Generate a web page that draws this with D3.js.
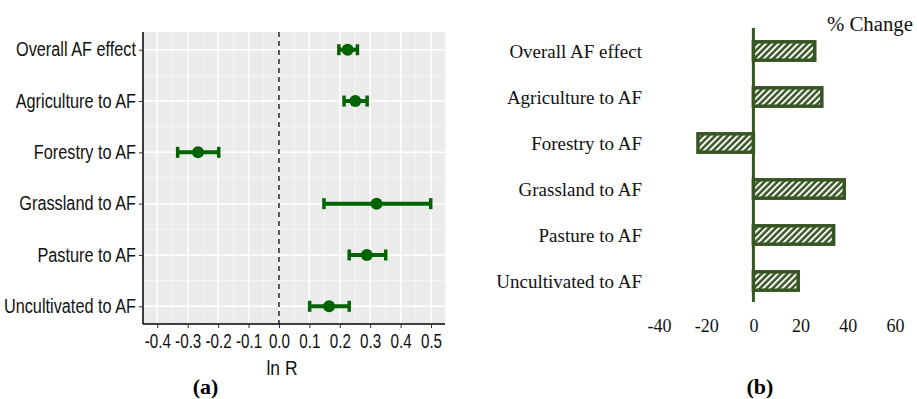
<!DOCTYPE html>
<html>
<head>
<meta charset="utf-8">
<script src="https://cdn.jsdelivr.net/npm/d3@7"></script>
<style>
body { margin: 0; background: #fff; }
svg { display: block; }
</style>
</head>
<body>
<svg width="917" height="399"></svg>
<script>
// categories, top to bottom
var categories = ["Overall AF effect", "Agriculture to AF", "Forestry to AF",
	"Grassland to AF", "Pasture to AF", "Uncultivated to AF"];

// (a) ln R with confidence interval
var lnR = [0.226, 0.251, -0.266, 0.321, 0.289, 0.165];
var lnRLow = [0.197, 0.214, -0.333, 0.148, 0.231, 0.101];
var lnRHigh = [0.258, 0.290, -0.198, 0.499, 0.351, 0.231];
var lnRTicks = [-0.4, -0.3, -0.2, -0.1, 0.0, 0.1, 0.2, 0.3, 0.4, 0.5];

// (b) % change
var pctChange = [26, 29, -23.5, 38.5, 34, 19];
var pctTicks = [-40, -20, 0, 20, 40, 60];

// the R plot uses a narrow sans, so squeeze Liberation Sans a bit
var sans = "'Liberation Sans', Arial, sans-serif";
var serif = "'Liberation Serif', 'Times New Roman', serif";

var svg = d3.select("svg");

/* Panel (a) */
var a = { left: 143, right: 445, top: 32, bottom: 324 };

var xA = d3.scaleLinear().domain([-0.447, 0.546]).range([a.left, a.right]);
var yA = d3.scalePoint().domain(categories).range([a.top, a.bottom]).padding(0.345);

var gA = svg.append("g");

gA.append("rect")
	.attr("x", a.left).attr("y", a.top)
	.attr("width", a.right - a.left).attr("height", a.bottom - a.top)
	.attr("fill", "#ebebeb");

// minor grid
var minorX = d3.range(-0.45, 0.56, 0.1).map((d) => +d.toFixed(2));
gA.selectAll(".minx").data(minorX).enter().append("line")
	.attr("x1", (d) => xA(d)).attr("x2", (d) => xA(d))
	.attr("y1", a.top).attr("y2", a.bottom)
	.attr("stroke", "#f7f7f7").attr("stroke-width", 0.8);

var step = yA.step();
var minorY = categories.slice(0, -1).map((c) => yA(c) + step / 2);
gA.selectAll(".miny").data(minorY).enter().append("line")
	.attr("x1", a.left).attr("x2", a.right)
	.attr("y1", (d) => d).attr("y2", (d) => d)
	.attr("stroke", "#f7f7f7").attr("stroke-width", 0.8);

// major grid
gA.selectAll(".majx").data(lnRTicks).enter().append("line")
	.attr("x1", (d) => xA(d)).attr("x2", (d) => xA(d))
	.attr("y1", a.top).attr("y2", a.bottom)
	.attr("stroke", "#fff").attr("stroke-width", 1.5);
gA.selectAll(".majy").data(categories).enter().append("line")
	.attr("x1", a.left).attr("x2", a.right)
	.attr("y1", (d) => yA(d)).attr("y2", (d) => yA(d))
	.attr("stroke", "#fff").attr("stroke-width", 1.5);

// zero reference
gA.append("line")
	.attr("x1", xA(0)).attr("x2", xA(0))
	.attr("y1", a.top).attr("y2", a.bottom)
	.attr("stroke", "#222").attr("stroke-width", 1.5)
	.attr("stroke-dasharray", "5,4");

// axes
var sq = 0.835;
var axisLeftA = d3.axisLeft(yA).tickSize(4).tickPadding(3);
var gyA = gA.append("g").attr("transform", "translate(" + a.left + ",0)").call(axisLeftA);
gyA.select(".domain").attr("d", "M0," + a.top + "V" + a.bottom).attr("stroke", "#000").attr("stroke-width", 1.5);
gyA.selectAll(".tick line").attr("stroke", "#333");
gyA.selectAll("text")
	.attr("font-family", sans)
	.attr("font-size", 19.5).attr("fill", "#111")
	.attr("transform", "scale(" + sq + ",1)")
	.attr("x", -7 / sq);

var axisBottomA = d3.axisBottom(xA).tickValues(lnRTicks).tickFormat(d3.format(".1f")).tickSize(4).tickPadding(6);
var gxA = gA.append("g").attr("transform", "translate(0," + a.bottom + ")").call(axisBottomA);
gxA.select(".domain").attr("d", "M" + a.left + ",0H" + a.right).attr("stroke", "#000").attr("stroke-width", 1.5);
gxA.selectAll(".tick line").attr("stroke", "#333");
gxA.selectAll("text")
	.attr("font-family", sans)
	.attr("font-size", 19.5).attr("fill", "#111")
	.attr("transform", "scale(0.78,1)")
	.text((d) => d3.format(".1f")(d).replace("−", "-"));

gA.append("text")
	.attr("transform", "translate(" + xA(0.01) + ",375) scale(0.85,1)")
	.attr("text-anchor", "middle")
	.attr("font-family", sans)
	.attr("font-size", 20.5).attr("fill", "#111")
	.text("ln R");

// error bars and points
var rowsA = categories.map((c, i) => ({ name: c, v: lnR[i], lo: lnRLow[i], hi: lnRHigh[i] }));
var green = "#006400";
var eb = gA.selectAll(".eb").data(rowsA).enter().append("g");
eb.append("line")
	.attr("x1", (d) => xA(d.lo)).attr("x2", (d) => xA(d.hi))
	.attr("y1", (d) => yA(d.name)).attr("y2", (d) => yA(d.name))
	.attr("stroke", green).attr("stroke-width", 4);
eb.append("line")
	.attr("x1", (d) => xA(d.lo)).attr("x2", (d) => xA(d.lo))
	.attr("y1", (d) => yA(d.name) - 5.5).attr("y2", (d) => yA(d.name) + 5.5)
	.attr("stroke", green).attr("stroke-width", 3.5);
eb.append("line")
	.attr("x1", (d) => xA(d.hi)).attr("x2", (d) => xA(d.hi))
	.attr("y1", (d) => yA(d.name) - 5.5).attr("y2", (d) => yA(d.name) + 5.5)
	.attr("stroke", green).attr("stroke-width", 3.5);
eb.append("circle")
	.attr("cx", (d) => xA(d.v)).attr("cy", (d) => yA(d.name))
	.attr("r", 6).attr("fill", green);

svg.append("text")
	.attr("x", 205.5).attr("y", 394)
	.attr("text-anchor", "middle")
	.attr("font-family", serif)
	.attr("font-weight", "bold").attr("font-size", 22)
	.text("(a)");

/* Panel (b) */
var b = { left: 659, right: 895, top: 28, bottom: 302 };
var xB = d3.scaleLinear().domain([-40, 60]).range([b.left, b.right]);
var yB = d3.scaleBand().domain(categories).range([28, 304]).paddingInner(0.6).paddingOuter(0.3);

var defs = svg.append("defs");
var pat = defs.append("pattern")
	.attr("id", "hatch")
	.attr("patternUnits", "userSpaceOnUse")
	.attr("width", 4.5).attr("height", 4.5)
	.attr("patternTransform", "rotate(45)");
pat.append("rect").attr("width", 4.5).attr("height", 4.5).attr("fill", "#375623");
pat.append("rect").attr("width", 2).attr("height", 4.5).attr("fill", "#fff");

var gB = svg.append("g");
var barColor = "#375623";

gB.selectAll(".bar").data(categories).enter().append("rect")
	.attr("x", (d, i) => xB(Math.min(0, pctChange[i])))
	.attr("width", (d, i) => Math.abs(xB(pctChange[i]) - xB(0)))
	.attr("y", (d) => yB(d))
	.attr("height", yB.bandwidth())
	.attr("fill", "url(#hatch)")
	.attr("stroke", barColor).attr("stroke-width", 3.5);

gB.append("line")
	.attr("x1", xB(0)).attr("x2", xB(0))
	.attr("y1", b.top).attr("y2", b.bottom)
	.attr("stroke", barColor).attr("stroke-width", 3);

gB.selectAll(".lab").data(categories).enter().append("text")
	.attr("x", 642)
	.attr("y", (d) => yB(d) + yB.bandwidth() / 2)
	.attr("dy", "0.35em")
	.attr("text-anchor", "end")
	.attr("font-family", serif)
	.attr("font-size", 19).attr("fill", "#111")
	.text((d) => d);

var axisB = d3.axisBottom(xB).tickValues(pctTicks).tickSize(0).tickPadding(0);
var gxB = gB.append("g").attr("transform", "translate(0,319)").call(axisB);
gxB.select(".domain").remove();
gxB.selectAll("text")
	.attr("font-family", serif)
	.attr("font-size", 18).attr("fill", "#111")
	.text((d) => String(d));

gB.append("text")
	.attr("x", 913).attr("y", 31)
	.attr("text-anchor", "end")
	.attr("font-family", serif)
	.attr("font-size", 20.8).attr("fill", "#111")
	.text("% Change");

svg.append("text")
	.attr("x", 760).attr("y", 394)
	.attr("text-anchor", "middle")
	.attr("font-family", serif)
	.attr("font-weight", "bold").attr("font-size", 22)
	.text("(b)");
</script>
</body>
</html>
